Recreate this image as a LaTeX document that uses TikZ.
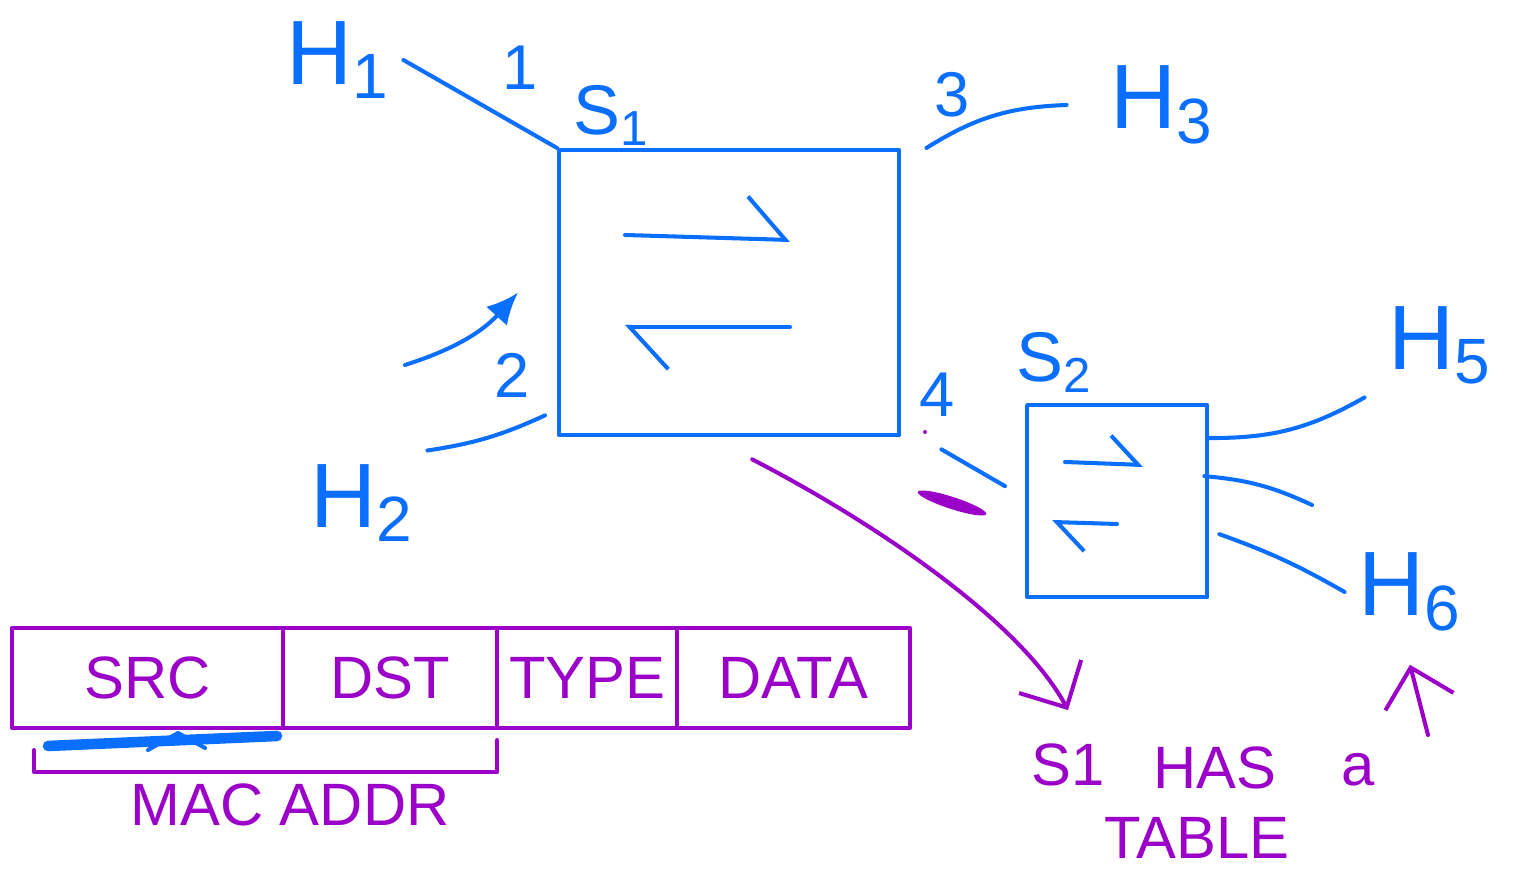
\documentclass[tikz,border=0pt]{standalone}
\usepackage{fontspec}
\setmainfont{Liberation Sans}
\usetikzlibrary{arrows.meta,positioning}
\definecolor{penblue}{RGB}{10,110,255}
\definecolor{penpurple}{RGB}{155,0,200}
\begin{document}
\begin{tikzpicture}[x=0.01cm, y=-0.01cm, line width=1.15pt, line cap=round, line join=round,
  host/.style={text=penblue, font=\fontsize{26}{26}\selectfont},
  port/.style={text=penblue, font=\fontsize{18}{18}\selectfont},
  switchbox/.style={draw=penblue, line width=1.2pt, anchor=north west},
  link/.style={draw=penblue},
  flow/.style={draw=penblue, -{Straight Barb[harpoon, length=11pt, width=24pt]}},
  field/.style={draw=penpurple, text=penpurple, outer sep=0pt, minimum height=1cm,
    font=\fontsize{17}{17}\selectfont},
  note/.style={text=penpurple, font=\fontsize{17}{17}\selectfont},
  remark/.style={draw=penpurple, -{Straight Barb[length=10pt, width=20pt]}}]
 \useasboundingbox (0,0) rectangle (1517,871);

 \node[switchbox, minimum width=3.4cm, minimum height=2.85cm] (s1) at (557,148) {};
 \node[switchbox, minimum width=1.8cm, minimum height=1.92cm] (s2) at (1025,403) {};
 \node[port, font=\fontsize{20}{20}\selectfont] (s1name) at (612,115) {S\textsubscript{1}};
 \node[port, font=\fontsize{20}{20}\selectfont] (s2name) at (1055,362) {S\textsubscript{2}};

 \draw[flow] (625,235) -- (790,240);
 \draw[flow] (790,327) -- (625,327);
 \draw[flow, -{Straight Barb[harpoon, length=8pt, width=16pt]}] (1065,462) -- (1143,465);
 \draw[flow, -{Straight Barb[harpoon, length=8pt, width=16pt]}] (1117,524) -- (1052,522);

 \node[host] (h1) at (338,60) {H\textsubscript{1}};
 \node[host] (h2) at (362,503) {H\textsubscript{2}};
 \node[host] (h3) at (1162,105) {H\textsubscript{3}};
 \node[host] (h5) at (1440,345) {H\textsubscript{5}};
 \node[host] (h6) at (1410,592) {H\textsubscript{6}};

 \node[port] (p1) at (520,68) {1};
 \node[port] (p2) at (512,375) {2};
 \node[port] (p3) at (952,95) {3};
 \node[port] (p4) at (937,395) {4};

 \coordinate (stub) at (1312,505);
 \coordinate (framein) at (405,365);
 \draw[link] (h1.east) -- (s1.north west);
 \draw[link] (h2.north east) to[bend right=8] ([shift={(-12,-22)}]s1.south west);
 \draw[link] ([xshift=0.25cm]s1.north east) to[bend left=15] ([xshift=-0.3cm]h3.west);
 \draw[link] ([shift={(40,12)}]s1.south east) -- ([shift={(-20,-15)}]s2.west);
 \draw[link] ([yshift=-0.35cm]s2.north east) to[bend right=15] ([xshift=-0.1cm]h5.south west);
 \draw[link] ([shift={(-5,-25)}]s2.east) to[bend left=10] (stub);
 \draw[link] ([shift={(10,33)}]s2.east) to[bend left=5] (h6.west);
 \draw[draw=penblue, -{Latex[length=9pt, width=8pt]}] (framein) to[bend right=15] ([xshift=-0.39cm]s1.west);

 \fill[penpurple, rotate around={-18:(952,503)}] (952,503) ellipse (36 and 6);
 \fill[penpurple] (925,432) circle (2);

 \node[field, minimum width=2.71cm, anchor=north west] (src) at (12,628) {SRC};
 \node[field, minimum width=2.14cm, right=0pt of src] (dst) {DST};
 \node[field, minimum width=1.70cm, right=0pt of dst] (type) {TYPE};
 \node[field, minimum width=2.33cm, right=0pt of type] (data) {DATA};
 \draw[penpurple] ([shift={(22,22)}]src.south west) -- ++(0,22) -| ([shift={(0,12)}]dst.south east);
 \node[note] (macaddr) at (290,805) {MAC ADDR};
 \draw[penblue, line width=3pt] (48,746) -- (277,736);
 \draw[penblue] (148,750) -- (178,733) -- (205,748);

 \node[note] (s1note) at (1068,765) {S1};
 \node[note] (hasnote) at (1215,768) {HAS};
 \node[note] (anote) at (1358,770) {a};
 \node[note] (tablenote) at (1197,838) {TABLE};
 \coordinate (pointer) at (1428,735);
 \draw[remark] ([shift={(23,22)}]s1.south) .. controls (870,520) and (1020,620) .. ([yshift=0.2cm]s1note.north);
 \draw[remark] (pointer) -- ([yshift=-0.2cm]h6.south);
\end{tikzpicture}
\end{document}
